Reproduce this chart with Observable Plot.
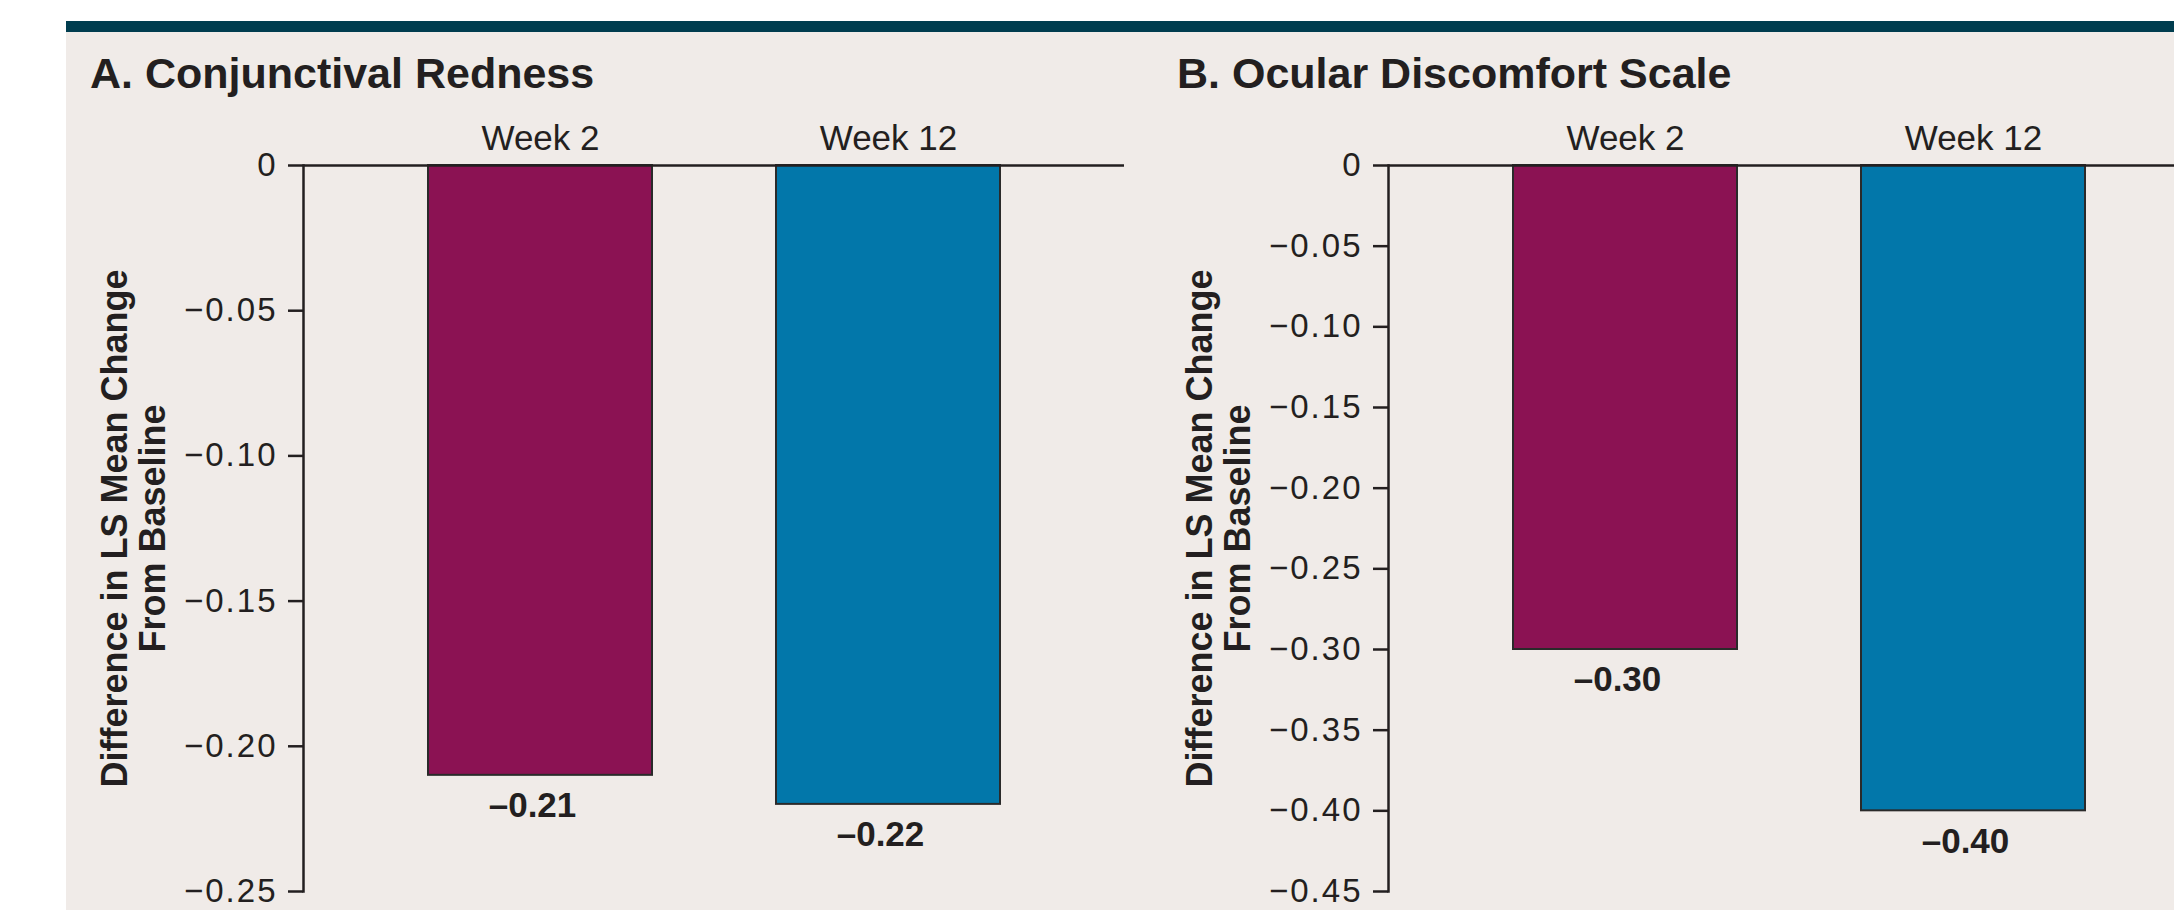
<!DOCTYPE html>
<html>
<head>
<meta charset="utf-8">
<script src="https://cdn.jsdelivr.net/npm/d3@7"></script>
<script src="https://cdn.jsdelivr.net/npm/@observablehq/plot@0.6"></script>
<style>
  html, body { margin: 0; padding: 0; background: #ffffff; overflow: hidden; }
  #root { position: relative; width: 2174px; height: 910px; overflow: hidden; background: #ffffff;
          font-family: "Liberation Sans", Arial, Helvetica, sans-serif; color: #231f20; }
  #rule { position: absolute; left: 66px; top: 21px; width: 2108px; height: 11px; background: #003d4f; }
  #panel { position: absolute; left: 66px; top: 32px; right: 0; bottom: 0; background: #f0ebe8; }
  .title { position: absolute; font-size: 43px; font-weight: bold; line-height: 1; white-space: nowrap; }
  .chart { position: absolute; top: 0; height: 910px; }
  .chart svg { overflow: visible; background: transparent; max-width: none !important; display: block; }
  .chart [aria-label="y-axis tick label"] text { letter-spacing: 2px; }
</style>
</head>
<body>
<div id="root">
  <div id="rule"></div>
  <div id="panel"></div>
  <div class="title" id="titleA" style="left:90px; top:52px;"></div>
  <div class="title" id="titleB" style="left:1177px; top:52px;"></div>
  <div class="chart" id="chartA" style="left:0px; width:1150px;"></div>
  <div class="chart" id="chartB" style="left:1085px; width:1151px;"></div>
</div>
<script>
// ---- data ----
const weeks = ["Week 2", "Week 12"];
const barColors = ["#8b1253", "#0277aa"];
const panelTitles = ["A. Conjunctival Redness", "B. Ocular Discomfort Scale"];
const yLabel = "Difference in LS Mean Change\nFrom Baseline";
const rednessValues = [-0.21, -0.22];
const discomfortValues = [-0.30, -0.40];
const rednessTicks = [0, -0.05, -0.10, -0.15, -0.20, -0.25];
const discomfortTicks = [0, -0.05, -0.10, -0.15, -0.20, -0.25, -0.30, -0.35, -0.40, -0.45];

const ink = "#231f20";
const font = "'Liberation Sans', Arial, Helvetica, sans-serif";

function tickFmt(d) { return d === 0 ? "0" : "\u2212" + Math.abs(d).toFixed(2); }
function valueFmt(d) { return "\u2013" + Math.abs(d).toFixed(2); }

function panel(values, ticks, width) {
  const data = weeks.map((w, i) => ({week: w, value: values[i]}));
  return Plot.plot({
    width: width,
    height: 910,
    marginLeft: 303,
    marginRight: 26,
    marginTop: 165,
    marginBottom: 19,
    style: {fontFamily: font, color: ink, background: "transparent", overflow: "visible", maxWidth: "none"},
    x: {domain: weeks, padding: 0.357, axis: null},
    y: {domain: [ticks[ticks.length - 1], 0], axis: null},
    color: {domain: weeks, range: barColors},
    marks: [
      Plot.barY(data, {x: "week", y: "value", fill: "week", stroke: "#2a2a2a", strokeWidth: 2}),
      Plot.ruleY([0], {stroke: ink, strokeWidth: 2.5}),
      Plot.frame({anchor: "left", stroke: ink, strokeWidth: 2.5}),
      Plot.axisY({ticks: ticks, tickFormat: tickFmt, tickSize: 15, tickPadding: 11,
                  fontSize: 33, stroke: ink, strokeWidth: 2.5, color: ink, label: null}),
      Plot.text(data, {x: "week", text: "week", frameAnchor: "top", lineAnchor: "bottom",
                       dy: -16, fontSize: 35, fill: ink}),
      Plot.text(data, {x: "week", y: "value", text: d => valueFmt(d.value), lineAnchor: "top",
                       dy: 17, dx: -8, fontSize: 35, fontWeight: "bold", fill: ink}),
      Plot.text([yLabel], {frameAnchor: "left", rotate: -90, lineAnchor: "middle", textAnchor: "middle",
                           lineHeight: 1.056, dx: -170, fontSize: 36, fontWeight: "bold", fill: ink})
    ]
  });
}

document.getElementById("titleA").textContent = panelTitles[0];
document.getElementById("titleB").textContent = panelTitles[1];
document.getElementById("chartA").appendChild(panel(rednessValues, rednessTicks, 1150));
document.getElementById("chartB").appendChild(panel(discomfortValues, discomfortTicks, 1151));
</script>
</body>
</html>
